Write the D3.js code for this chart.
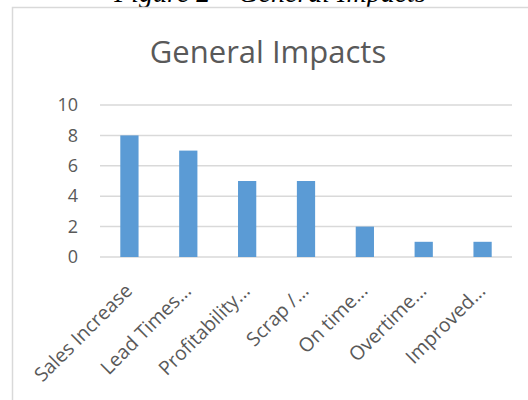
<!DOCTYPE html>
<html>
<head>
<meta charset="utf-8">
<script src="https://cdn.jsdelivr.net/npm/d3@7"></script>
<style>
  html, body { margin: 0; padding: 0; background: #fff; }
  svg { display: block; }
</style>
</head>
<body>
<div id="chart"></div>
<script>
// Дані графіка
const categories = ['Sales Increase', 'Lead Times...', 'Profitability...', 'Scrap /...', 'On time...', 'Overtime...', 'Improved...'];
const values = [8, 7, 5, 5, 2, 1, 1];
const yTicks = [0, 2, 4, 6, 8, 10];
const chartTitle = 'General Impacts';
const caption = 'Figure 2 – General Impacts';

const WIDTH = 528;
const HEIGHT = 400;
const FONT = '"Open Sans", "Noto Sans", sans-serif';
const TEXT_COLOR = '#595959';

const svg = d3.select('#chart')
    .append('svg')
    .attr('width', WIDTH)
    .attr('height', HEIGHT);

// Підпис рисунка (обрізаний зверху, як на зразку)
svg.append('text')
    .attr('x', 270)
    .attr('y', 2)
    .attr('text-anchor', 'middle')
    .attr('font-family', '"Liberation Serif", "DejaVu Serif", serif')
    .attr('font-style', 'italic')
    .attr('font-size', 28)
    .attr('fill', '#000')
    .text(caption);

// Рамка області графіка
svg.append('rect')
    .attr('x', 12.5)
    .attr('y', 7.5)
    .attr('width', 600)
    .attr('height', 500)
    .attr('fill', '#fff')
    .attr('stroke', '#d9d9d9')
    .attr('stroke-width', 1.5);

// Заголовок
svg.append('text')
    .attr('x', 268)
    .attr('y', 63)
    .attr('text-anchor', 'middle')
    .attr('font-family', FONT)
    .attr('font-size', 31)
    .attr('fill', TEXT_COLOR)
    .text(chartTitle);

// Шкали
const x = d3.scaleBand()
    .domain(categories)
    .range([100, 512])
    .paddingInner(0.69)
    .paddingOuter(0.345);

const y = d3.scaleLinear()
    .domain([0, 10])
    .range([257, 105]);

// Сітка
svg.append('g')
    .selectAll('line')
    .data(yTicks)
    .join('line')
    .attr('x1', 100)
    .attr('x2', 512)
    .attr('y1', d => y(d))
    .attr('y2', d => y(d))
    .attr('stroke', '#d9d9d9')
    .attr('stroke-width', 1.5);

// Вісь Y
const yAxis = d3.axisLeft(y)
    .tickValues(yTicks)
    .tickSize(0)
    .tickPadding(22);

svg.append('g')
    .attr('transform', 'translate(100,0)')
    .call(yAxis)
    .call(g => g.select('.domain').remove())
    .call(g => g.selectAll('text')
        .attr('font-family', FONT)
        .attr('font-size', 18)
        .attr('fill', TEXT_COLOR));

// Стовпчики
svg.append('g')
    .selectAll('rect')
    .data(values)
    .join('rect')
    .attr('x', (d, i) => x(categories[i]))
    .attr('y', d => y(d))
    .attr('width', x.bandwidth())
    .attr('height', d => y(0) - y(d))
    .attr('fill', '#5b9bd5');

// Вісь X з повернутими підписами
const xAxis = d3.axisBottom(x)
    .tickSize(0)
    .tickPadding(0);

svg.append('g')
    .attr('transform', `translate(0,${y(0)})`)
    .call(xAxis)
    .call(g => g.select('.domain').remove())
    .call(g => g.selectAll('text')
        .attr('font-family', FONT)
        .attr('font-size', 19.5)
        .attr('fill', TEXT_COLOR)
        .attr('text-anchor', 'end')
        .attr('dy', 0)
        .attr('transform', 'translate(4,35) rotate(-45)'));
</script>
</body>
</html>
